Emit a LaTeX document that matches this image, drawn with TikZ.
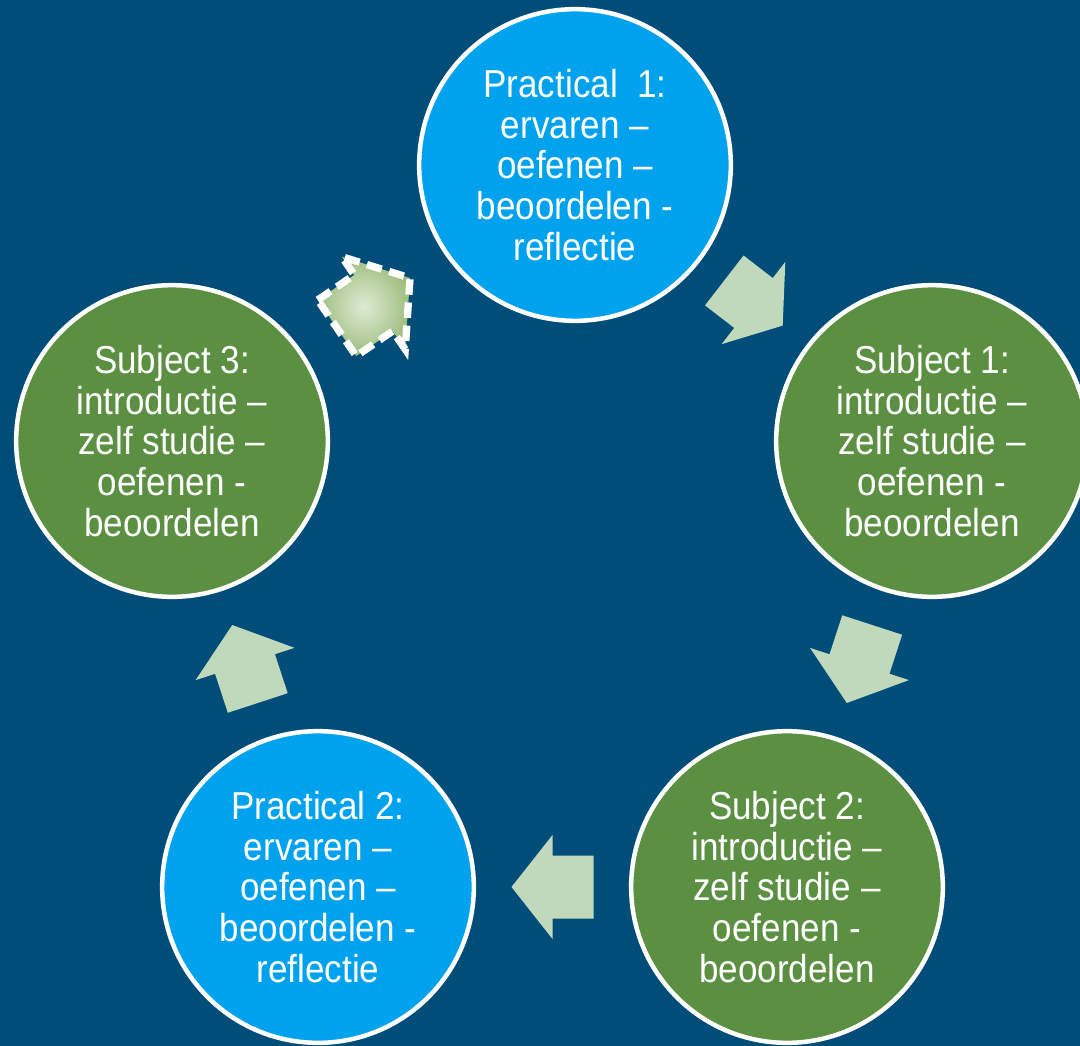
\documentclass[tikz,border=0pt]{standalone}
\usepackage{fontspec}
\setmainfont{Liberation Sans}[FakeStretch=0.9]
\usetikzlibrary{calc}
\definecolor{bgblue}{RGB}{0,77,122}
\definecolor{cycblue}{RGB}{0,162,237}
\definecolor{cycgreen}{RGB}{91,143,65}
\definecolor{arrfill}{RGB}{192,217,187}
\definecolor{shadein}{RGB}{222,235,212}
\definecolor{shadeout}{RGB}{158,190,126}
\tikzset{
  stage/.style={circle, draw=white, line width=3.2pt, minimum size=7.79cm,
    inner sep=0pt, text=white, align=center,
    font=\fontsize{27.7}{28.9}\selectfont},
  practical/.style={stage, fill=cycblue},
  subject/.style={stage, fill=cycgreen},
  cyclearrow/.style={fill=arrfill},
  selarrow/.style={inner color=shadein, outer color=shadeout, draw=white,
    line width=5.2pt, dash pattern=on 11pt off 5.5pt, line join=miter}
}
% #1 from node, #2 to node, #3 scope options, #4 path style
\newcommand\cycarrow[4]{%
  \path let \p1=($(#2.center)-(#1.center)$), \n1={atan2(\y1,\x1)} in
    \pgfextra{\xdef\cycang{\n1}};
  \begin{scope}[shift={($(#1.center)!0.5!(#2.center)$)}, rotate=\cycang, #3]
    \path[#4] (-41,-31.5) -- (0,-31.5) -- (0,-52) -- (41,0) -- (0,52)
      -- (0,31.5) -- (-41,31.5) -- cycle;
  \end{scope}}
\begin{document}
\begin{tikzpicture}[x=0.025cm, y=-0.025cm]
  \useasboundingbox (0,0) rectangle (1080,1046);
  \clip (0,0) rectangle (1080,1046);
  \fill[bgblue] (0,0) rectangle (1080,1046);

  \node[practical] (p1) at (575,165) {Practical\ \ 1:\\ervaren –\\oefenen –\\beoordelen -\\reflectie};
  \node[subject] (s1) at (932,441) {Subject 1:\\introductie –\\zelf studie –\\oefenen -\\beoordelen};
  \node[subject] (s2) at (787,887) {Subject 2:\\introductie –\\zelf studie –\\oefenen -\\beoordelen};
  \node[practical] (p2) at (318,887) {Practical 2:\\ervaren –\\oefenen –\\beoordelen -\\reflectie};
  \node[subject] (s3) at (172,441) {Subject 3:\\introductie –\\zelf studie –\\oefenen -\\beoordelen};

  \cycarrow{p1}{s1}{xscale=0.9}{cyclearrow}
  \cycarrow{s1}{s2}{}{cyclearrow}
  \cycarrow{s2}{p2}{}{cyclearrow}
  \cycarrow{p2}{s3}{}{cyclearrow}
  \cycarrow{s3}{p1}{scale=1.08}{selarrow}
\end{tikzpicture}
\end{document}
